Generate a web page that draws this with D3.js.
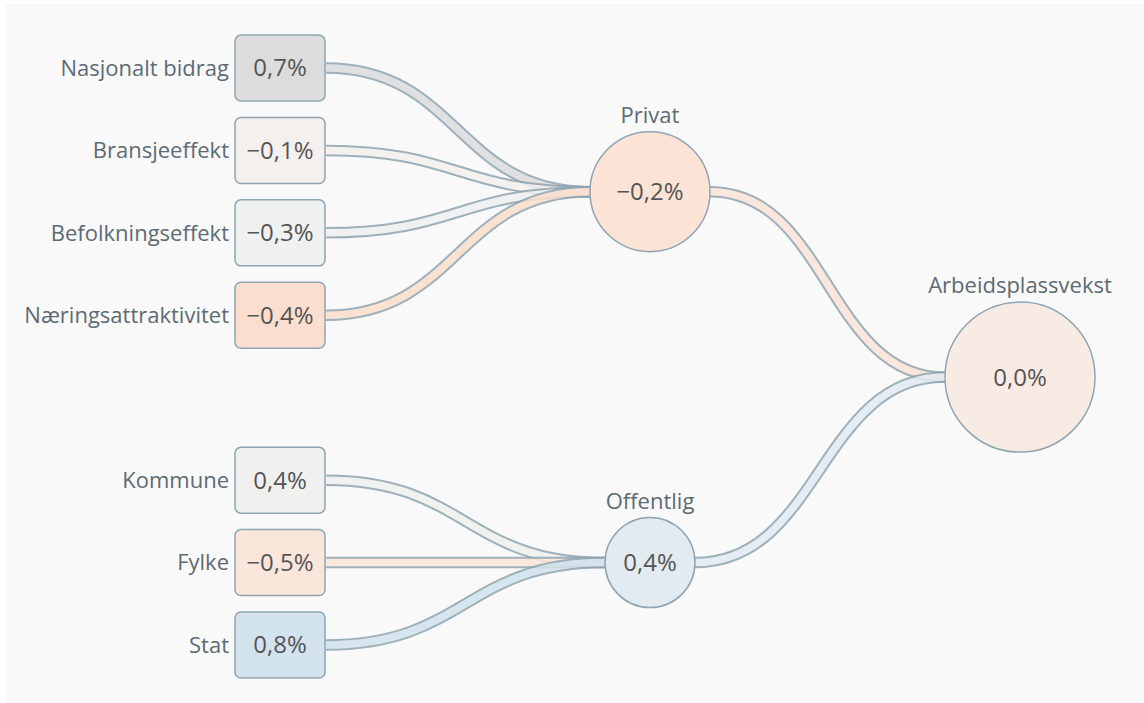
<!DOCTYPE html>
<html>
<head>
<meta charset="utf-8">
<script src="https://cdn.jsdelivr.net/npm/d3@7"></script>
<style>
  html, body { margin: 0; padding: 0; background: #fff; }
  svg { display: block; }
  text { font-family: "Open Sans", sans-serif; }
</style>
</head>
<body>
<svg id="chart" width="1144" height="703"></svg>
<script>
// dekomponering av arbeidsplassvekst
const leafNames = ["Nasjonalt bidrag", "Bransjeeffekt", "Befolkningseffekt", "Næringsattraktivitet", "Kommune", "Fylke", "Stat"];
const leafValues = [0.7, -0.1, -0.3, -0.4, 0.4, -0.5, 0.8];
const leafGroup = ["Privat", "Privat", "Privat", "Privat", "Offentlig", "Offentlig", "Offentlig"];
const groupNames = ["Privat", "Offentlig"];
const groupValues = [-0.2, 0.4];
const totalName = "Arbeidsplassvekst";
const totalValue = 0.0;

// farger per node (stil, ikke data)
const FILL = {
  "Nasjonalt bidrag": "#dcdcdc",
  "Bransjeeffekt": "#f4f0ed",
  "Befolkningseffekt": "#eff1f0",
  "Næringsattraktivitet": "#fbdecd",
  "Kommune": "#f0f0ef",
  "Fylke": "#fae6da",
  "Stat": "#d2e3ed",
  "Privat": "#fbe3d5",
  "Offentlig": "#e2eaf2",
  "Arbeidsplassvekst": "#f8ebe4"
};
const RADIUS = { "Privat": 60, "Offentlig": 45, "Arbeidsplassvekst": 75 };
const EDGE = "#8fa5b1";
const LABEL = "#5d6b73";
const VALUE = "#555";

const nb = d3.formatLocale({ decimal: ",", thousands: " ", grouping: [3], currency: ["", " kr"], minus: "\u2212" });
const pct = (v) => nb.format(".1f")(v) + "%";

const svg = d3.select("#chart");
svg.append("rect").attr("x", 6).attr("y", 4).attr("width", 1138).attr("height", 699).attr("fill", "#f9f9f9");

const colX = d3.scalePoint().domain([0, 1, 2]).range([280, 1020]);
const y = d3.scaleLinear().domain([0, 7]).range([68, 645]);

const BW = 90, BH = 66;

// blader: rad = indeks + gruppeindeks (gir luft mellom gruppene)
const leaves = leafNames.map((name, i) => {
  const g = groupNames.indexOf(leafGroup[i]);
  return { name, value: leafValues[i], group: leafGroup[i], row: i + g };
});
const groups = groupNames.map((name, i) => {
  const rows = leaves.filter((d) => d.group === name).map((d) => d.row);
  return { name, value: groupValues[i], row: d3.mean(rows), r: RADIUS[name] };
});
const total = { name: totalName, value: totalValue, row: d3.mean(groups, (d) => d.row), r: RADIUS[totalName] };

const link = d3.linkHorizontal().x((d) => d[0]).y((d) => d[1]);

const links = [];
leaves.forEach((d) => {
  const g = groups.find((e) => e.name === d.group);
  links.push({ from: d.name, s: [colX(0) + BW / 2 + 1, y(d.row)], t: [colX(1) - g.r, y(g.row)] });
});
groups.forEach((g) => {
  links.push({ from: g.name, s: [colX(1) + g.r, y(g.row)], t: [colX(2) - total.r, y(total.row)] });
});

const gLinks = svg.append("g");
const lg = gLinks.selectAll("g").data(links).join("g").attr("opacity", 0.85);
lg.append("path").attr("d", (d) => link({ source: d.s, target: d.t }))
  .attr("fill", "none").attr("stroke", EDGE).attr("stroke-width", 11.5);
lg.append("path").attr("d", (d) => link({ source: d.s, target: d.t }))
  .attr("fill", "none").attr("stroke", (d) => FILL[d.from]).attr("stroke-width", 7.5);

// bokser
const gBox = svg.append("g").selectAll("g").data(leaves).join("g")
  .attr("transform", (d) => `translate(${colX(0)},${y(d.row)})`);
gBox.append("rect")
  .attr("x", -BW / 2).attr("y", -BH / 2).attr("width", BW).attr("height", BH).attr("rx", 6)
  .attr("fill", (d) => FILL[d.name]).attr("stroke", EDGE).attr("stroke-width", 1.5);
gBox.append("text").attr("text-anchor", "middle").attr("dy", "0.35em")
  .attr("font-size", 24).attr("fill", VALUE).text((d) => pct(d.value));
gBox.append("text").attr("x", -BW / 2 - 6).attr("text-anchor", "end").attr("dy", "0.35em")
  .attr("font-size", 22).attr("fill", LABEL).text((d) => d.name);

// sirkler
const circles = groups.map((g) => ({ ...g, col: 1 })).concat([{ ...total, col: 2 }]);
const gCirc = svg.append("g").selectAll("g").data(circles).join("g")
  .attr("transform", (d) => `translate(${colX(d.col)},${y(d.row)})`);
gCirc.append("circle").attr("r", (d) => d.r)
  .attr("fill", (d) => FILL[d.name]).attr("stroke", EDGE).attr("stroke-width", 1.5);
gCirc.append("text").attr("text-anchor", "middle").attr("dy", "0.35em")
  .attr("font-size", 24).attr("fill", VALUE).text((d) => pct(d.value));
gCirc.append("text").attr("text-anchor", "middle").attr("y", (d) => -d.r - 9)
  .attr("font-size", 22).attr("fill", LABEL).text((d) => d.name);
</script>
</body>
</html>
